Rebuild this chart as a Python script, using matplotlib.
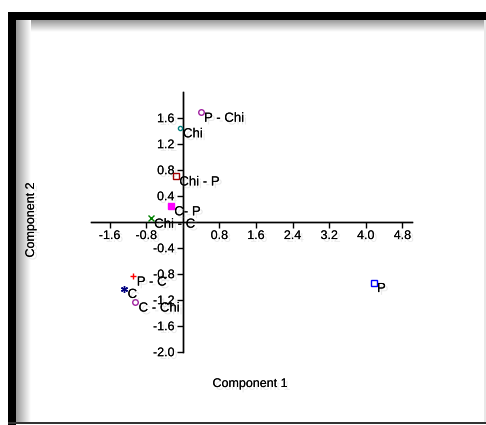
import numpy as np
import matplotlib
matplotlib.use("Agg")
import matplotlib.pyplot as plt
import matplotlib.patheffects as pe
from matplotlib.patches import Rectangle

# Component scores
labels = ['P - Chi', 'Chi', 'Chi - P', 'C- P', 'Chi - C', 'P - C', 'C', 'C - Chi', 'P']
comp1 = [0.39, -0.07, -0.15, -0.26, -0.70, -1.08, -1.28, -1.04, 4.17]
comp2 = [1.68, 1.44, 0.70, 0.24, 0.05, -0.84, -1.03, -1.24, -0.94]
markers = ['o', 'o', 's', 's', 'x', '+', (6, 2, 0), 'o', 's']
colors = ['#a020a0', '#008080', '#a00000', '#ff00ff', '#008000', '#ff0000', '#000080', '#a020a0', '#0000ff']
filled = [False, False, False, True, False, False, False, False, False]
msizes = [4, 3, 4, 5, 4, 5, 5, 4, 4.5]

xticks = [-1.6, -0.8, 0.8, 1.6, 2.4, 3.2, 4.0, 4.8]
yticks = [-2.0, -1.6, -1.2, -0.8, -0.4, 0.4, 0.8, 1.2, 1.6]

plt.rcParams['font.family'] = ['Liberation Sans', 'DejaVu Sans']

W, H = 486, 425
fig = plt.figure(figsize=(W / 100, H / 100), dpi=100)

# background frame drawn in pixel coordinates
bg = fig.add_axes([0, 0, 1, 1])
bg.set_xlim(0, W)
bg.set_ylim(H, 0)
bg.axis('off')
bg.add_patch(Rectangle((8, 12), W - 8, 8, color='black', lw=0))
bg.add_patch(Rectangle((8, 12), 8, H - 12, color='black', lw=0))
bg.add_patch(Rectangle((8, 422), W - 8, 2, color='#333333', lw=0))
bg.add_patch(Rectangle((W - 2, 20), 2, 402, color='#e8e8e8', lw=0))
grad = np.linspace(0.6, 1.0, 64)
bg.imshow(grad[:, None], extent=(16, W - 2, 32, 20), cmap='gray', vmin=0, vmax=1,
          aspect='auto', interpolation='bilinear')
bg.imshow(grad[None, :], extent=(16, 30, 422, 20), cmap='gray', vmin=0, vmax=1,
          aspect='auto', interpolation='bilinear')
bg.set_xlim(0, W)
bg.set_ylim(H, 0)

shadow = [pe.withSimplePatchShadow(offset=(2, -2), shadow_rgbFace='0.6', alpha=0.2), pe.Normal()]

ax = fig.add_axes([91.2 / W, 1 - 351.7 / H, 320.3 / W, 260 / H])
ax.patch.set_alpha(0)
ax.set_xlim(-2.0, 5.0)
ax.set_ylim(-2.0, 2.0)
ax.spines['left'].set_position(('data', 0))
ax.spines['bottom'].set_position(('data', 0))
ax.spines['top'].set_visible(False)
ax.spines['right'].set_visible(False)
for s in ('left', 'bottom'):
    ax.spines[s].set_linewidth(1.0)
    ax.spines[s].set_path_effects(shadow)
ax.spines['left'].set_bounds(-2.0, 2.0)
ax.spines['bottom'].set_bounds(-2.0, 5.0)

ax.set_xticks(xticks)
ax.set_xticklabels([f'{v:.1f}' for v in xticks])
ax.set_yticks(yticks)
ax.set_yticklabels([f'{v:.1f}' for v in yticks])
ax.tick_params(direction='out', length=4, width=1, labelsize=9, pad=2)
for t in ax.get_xticklabels() + ax.get_yticklabels():
    t.set_path_effects(shadow)

for x, y, lab, m, c, f, ms in zip(comp1, comp2, labels, markers, colors, filled, msizes):
    ax.plot(x, y, marker=m, ms=ms, mec=c, mfc=c if f else 'none', mew=1.0,
            linestyle='none', zorder=3)
    ax.annotate(lab, (x, y), xytext=(2.5, -4.5), textcoords='offset points',
                ha='left', va='center', fontsize=9.5, path_effects=shadow, zorder=4)

fig.text(250 / W, 1 - 384 / H, 'Component 1', ha='center', va='center', fontsize=9,
         path_effects=shadow)
fig.text(31 / W, 1 - 220 / H, 'Component 2', ha='center', va='center', fontsize=9,
         rotation=90, path_effects=shadow)

fig.savefig('out.png', dpi=100)
